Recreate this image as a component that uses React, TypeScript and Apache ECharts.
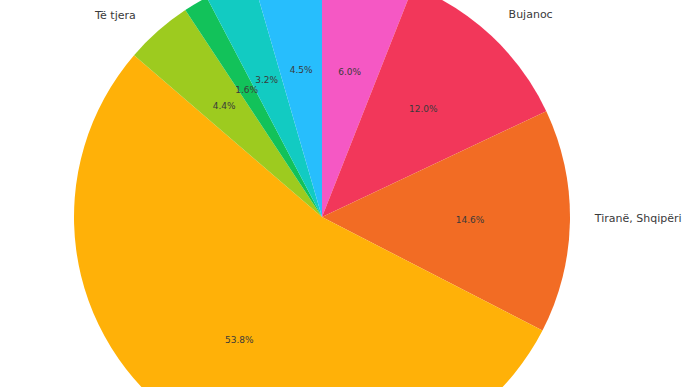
import React, { useEffect, useRef } from "react";
import * as echarts from "echarts";

const sliceNames = ["", "Bujanoc", "Tiranë, Shqipëri", "", "Të tjera", "", "", ""];
const sliceValues = [6.0, 12.0, 14.6, 53.8, 4.4, 1.6, 3.2, 4.5];
const sliceColors = ["#F558C4", "#F2375A", "#F26C24", "#FFB108", "#9DCB1F", "#12C25A", "#12CBC2", "#27BEFD"];

const CX = 322;
const CY = 217;
const R = 248;

export default function App() {
  const ref = useRef<HTMLDivElement>(null);
  useEffect(() => {
    document.body.style.margin = "0";
    const chart = echarts.init(ref.current!, null, { renderer: "svg" });
    const data = sliceValues.map((v, i) => ({
      value: v,
      name: sliceNames[i] || `s${i}`,
      label: { show: sliceNames[i] !== "" },
      itemStyle: { color: sliceColors[i] },
    }));
    chart.setOption({
      animation: false,
      backgroundColor: "#ffffff",
      series: [
        {
          type: "pie",
          center: [CX, CY],
          radius: [0, R],
          startAngle: 90,
          clockwise: true,
          avoidLabelOverlap: false,
          silent: true,
          data,
          label: {
            position: "outside",
            formatter: (p: any) => sliceNames[p.dataIndex],
            fontFamily: "DejaVu Sans",
            fontSize: 11,
            color: "#3a3a3a",
            distanceToLabelLine: 0,
          },
          labelLayout: (p: any) => (p.dataIndex === 4 ? { dx: -6, dy: 3 } : { dy: -3 }),
          labelLine: { show: false, length: R * 0.1, length2: 0 },
          itemStyle: { borderWidth: 0 },
        },
        {
          type: "pie",
          center: [CX, CY],
          radius: [R * 0.17, R],
          startAngle: 90,
          clockwise: true,
          avoidLabelOverlap: false,
          silent: true,
          data: sliceValues.map((v, i) => ({ value: v, name: `p${i}` })),
          itemStyle: { color: "rgba(0,0,0,0)", borderWidth: 0 },
          label: {
            position: "inside",
            formatter: (p: any) => `${sliceValues[p.dataIndex].toFixed(1)}%`,
            fontFamily: "DejaVu Sans",
            fontSize: 9,
            color: "#3a3a3a",
          },
          labelLine: { show: false },
        },
      ],
    });
    return () => chart.dispose();
  }, []);
  return <div ref={ref} style={{ position: "absolute", left: 0, top: 0, width: 688, height: 387 }} />;
}
